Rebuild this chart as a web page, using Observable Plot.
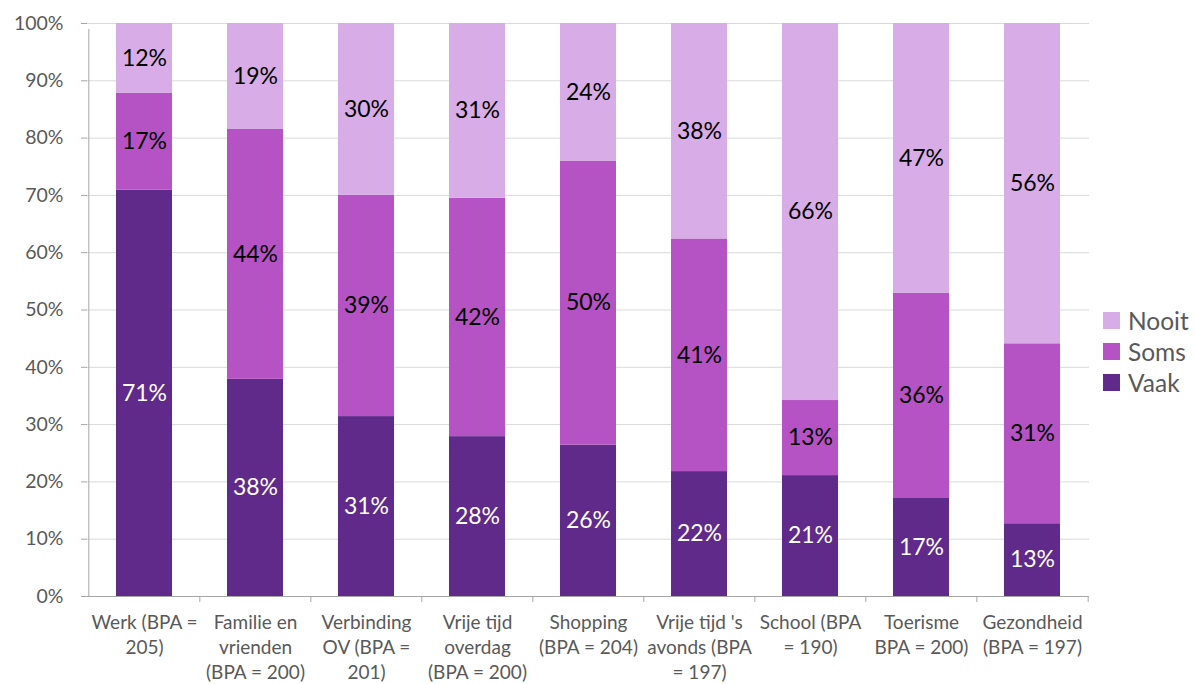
<!DOCTYPE html>
<html>
<head>
<meta charset="utf-8">
<script src="https://cdn.jsdelivr.net/npm/d3@7"></script>
<script src="https://cdn.jsdelivr.net/npm/@observablehq/plot@0.6"></script>
<style>
  html, body { margin: 0; padding: 0; background: #fff; }
  #wrap { position: relative; width: 1195px; height: 684px; font-family: Lato, sans-serif; }
  #legend { position: absolute; left: 1103px; top: 305px; color: #595959; font-size: 24.5px; line-height: 31px; }
  #legend div { display: flex; align-items: center; }
  #legend span.sw { display: inline-block; width: 17px; height: 17px; margin-right: 8px; }
</style>
</head>
<body>
<div id="wrap"><div id="legend"></div></div>
<script>
const categories = [
  "Werk (BPA =\n205)",
  "Familie en\nvrienden\n(BPA = 200)",
  "Verbinding\nOV (BPA =\n201)",
  "Vrije tijd\noverdag\n(BPA = 200)",
  "Shopping\n(BPA = 204)",
  "Vrije tijd 's\navonds (BPA\n= 197)",
  "School (BPA\n= 190)",
  "Toerisme\nBPA = 200)",
  "Gezondheid\n(BPA = 197)"
];
const vaak  = [70.9, 37.9, 31.4, 27.9, 26.4, 21.8, 21.1, 17.1, 12.7];
const soms  = [16.9, 43.6, 38.6, 41.6, 49.6, 40.6, 13.1, 35.8, 31.4];
const nooit = [12.2, 18.5, 30.0, 30.5, 24.0, 37.6, 65.8, 47.1, 55.9];
const series = ["Vaak", "Soms", "Nooit"];
const legendOrder = ["Nooit", "Soms", "Vaak"];
const colors = ["#5F2A8A", "#B553C4", "#D8ACE6"];
const yTicks = [0, 10, 20, 30, 40, 50, 60, 70, 80, 90, 100];

const valuesBySeries = {Vaak: vaak, Soms: soms, Nooit: nooit};
const rows = [];
categories.forEach((c, i) => {
  series.forEach(s => rows.push({cat: c, series: s, value: valuesBySeries[s][i]}));
});

const W = 1195, H = 684, mL = 87, mR = 106, mT = 23, mB = 88;
const step = (W - mL - mR) / categories.length;
const axisColor = "#A6A6A6";
const textColor = "#595959";
const fmt = v => Math.round(v) + "%";

const chart = Plot.plot({
  width: W, height: H,
  marginLeft: mL, marginRight: mR, marginTop: mT, marginBottom: mB,
  style: {fontFamily: "Lato, sans-serif", fontSize: "19px", color: textColor, background: "white"},
  x: {domain: categories, paddingInner: 0.5, paddingOuter: 0.25, label: null},
  y: {domain: [0, 100], label: null},
  color: {domain: series, range: colors},
  marks: [
    Plot.gridY(yTicks, {stroke: "#D9D9D9", strokeOpacity: 1}),
    Plot.barY(rows, Plot.stackY({x: "cat", y: "value", fill: "series", order: series})),
    Plot.text(rows, Plot.stackY({x: "cat", y: "value", z: "series", order: series,
      text: d => d.series === "Vaak" ? fmt(d.value) : "", fill: "white", fontSize: 23})),
    Plot.text(rows, Plot.stackY({x: "cat", y: "value", z: "series", order: series,
      text: d => d.series !== "Vaak" ? fmt(d.value) : "", fill: "black", fontSize: 23})),
    Plot.axisY(yTicks, {tickFormat: d => d + "%", tickSize: 6, tickPadding: 18,
      stroke: axisColor, fill: textColor, fontSize: 19.5, label: null}),
    Plot.ruleY([0], {stroke: axisColor}),
    Plot.ruleX([categories[0]], {dx: -step / 2, y1: 0, y2: 100, insetBottom: -6, stroke: axisColor}),
    Plot.ruleX(categories.slice(1), {dx: -step / 2, y1: 0, y2: 0, insetBottom: -6, stroke: axisColor}),
    Plot.ruleX([categories[categories.length - 1]], {dx: step / 2, y1: 0, y2: 0, insetBottom: -6, stroke: axisColor}),
    Plot.axisX({tickSize: 0, tickPadding: 15, lineHeight: 1.32, fontSize: 19, fill: textColor, label: null})
  ]
});
document.getElementById("wrap").prepend(chart);

const legend = document.getElementById("legend");
legendOrder.forEach(s => {
  const row = document.createElement("div");
  const sw = document.createElement("span");
  sw.className = "sw";
  sw.style.background = colors[series.indexOf(s)];
  row.appendChild(sw);
  row.appendChild(document.createTextNode(s));
  legend.appendChild(row);
});
</script>
</body>
</html>
